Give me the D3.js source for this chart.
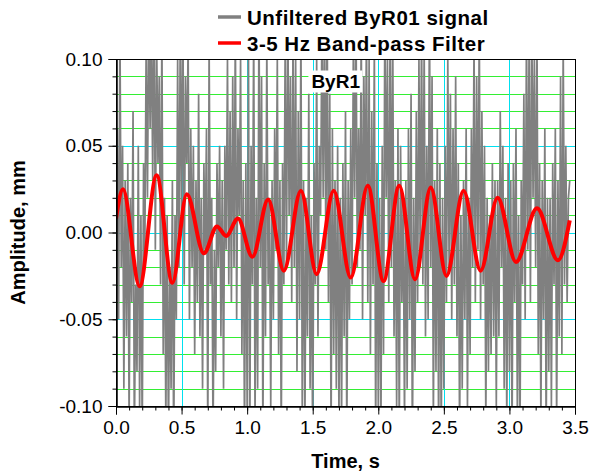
<!DOCTYPE html>
<html>
<head>
<meta charset="utf-8">
<script src="https://cdn.jsdelivr.net/npm/d3@7"></script>
<style>
  body { margin: 0; background: #fff; }
  text { font-family: "Liberation Sans", Arial, sans-serif; }
</style>
</head>
<body>
<div id="chart"></div>
<script>
// axis ticks
const timeTicks = [0, 0.5, 1.0, 1.5, 2.0, 2.5, 3.0, 3.5];
const ampTicks = [-0.10, -0.05, 0.00, 0.05, 0.10];

// unfiltered signal, one value every 0.01 s
const sampleStep = 0.01;
const rawSignal = [
  0.01, 0.06, -0.05, 0.12, -0.02, 0.05, -0.09, 0.03, -0.06, 0.04,
  -0.11, 0.02, -0.04, 0.07, -0.12, -0.03, -0.08, 0.05, -0.1, 0.01,
  -0.12, 0.04, -0.01, 0.11, 0.02, 0.13, 0.06, 0.12, 0.03, 0.14,
  -0.01, 0.11, 0.04, 0.09, -0.03, 0.12, -0.07, 0.02, -0.11, 0.01,
  -0.12, -0.02, -0.09, 0.03, -0.13, 0.01, -0.05, 0.1, -0.02, 0.12,
  0.01, 0.13, -0.03, 0.09, 0.04, 0.11, -0.05, 0.06, -0.02, 0.05,
  -0.07, 0.03, -0.04, 0.08, -0.06, 0.02, -0.09, 0.04, -0.01, 0.06,
  -0.12, 0.11, -0.03, 0.02, -0.12, -0.01, -0.08, 0.04, -0.02, 0.05,
  -0.06, 0.03, -0.09, 0.05, -0.01, 0.1, -0.03, 0.07, -0.04, 0.09,
  -0.02, 0.12, -0.05, 0.06, 0.01, 0.1, -0.07, 0.03, -0.12, 0.04,
  -0.1, 0.11, -0.13, 0.05, -0.03, 0.12, -0.11, 0.02, -0.09, 0.13,
  -0.02, 0.09, -0.12, 0.04, -0.06, 0.11, -0.03, 0.02, -0.1, 0.03,
  -0.05, 0.06, -0.01, 0.1, -0.07, 0.03, -0.12, 0.04, -0.03, 0.11,
  -0.02, 0.13, 0.01, 0.09, -0.04, 0.12, -0.02, 0.1, -0.08, 0.07,
  -0.05, 0.12, -0.1, 0.03, -0.12, 0.02, -0.06, 0.08, -0.09, 0.01,
  -0.13, 0.04, -0.03, 0.1, -0.06, 0.05, 0.01, 0.12, 0.02, 0.13,
  -0.01, 0.13, -0.04, 0.08, -0.12, 0.06, -0.07, 0.03, -0.09, 0.05,
  -0.11, 0.02, -0.11, 0.04, -0.06, 0.07, -0.12, 0.03, -0.05, 0.06,
  -0.03, 0.11, 0.02, 0.13, -0.02, 0.06, -0.01, 0.12, -0.05, 0.09,
  0.01, 0.12, -0.04, 0.1, -0.07, 0.07, -0.03, 0.11, -0.12, 0.04,
  -0.1, 0.02, -0.12, 0.05, -0.07, 0.13, 0.02, 0.1, -0.04, 0.12,
  -0.02, 0.12, -0.06, 0.03, -0.1, 0.06, -0.12, 0.05, -0.04, 0.02,
  -0.11, 0.03, -0.09, 0.06, -0.05, 0.08, -0.13, 0.02, -0.08, 0.07,
  -0.04, 0.1, -0.02, 0.12, -0.03, 0.11, -0.06, 0.05, -0.05, 0.13,
  -0.02, 0.09, -0.11, 0.03, -0.08, 0.06, -0.12, 0.04, -0.12, 0.02,
  -0.09, 0.05, -0.04, 0.1, -0.02, 0.08, -0.05, 0.06, -0.03, 0.09,
  -0.06, 0.04, -0.12, 0.01, -0.09, 0.03, -0.05, 0.06, -0.1, 0.02,
  -0.07, 0.06, -0.02, 0.11, -0.04, 0.09, -0.01, 0.12, -0.05, 0.07,
  -0.03, 0.05, -0.11, 0.02, -0.08, 0.01, -0.07, 0.04, -0.06, 0.03,
  -0.1, 0.03, -0.06, 0.07, -0.02, 0.05, -0.09, 0.02, -0.11, 0.04,
  -0.08, 0.03, -0.12, 0.04, -0.04, 0.06, -0.1, 0.01, -0.13, 0.03,
  -0.03, 0.08, -0.05, 0.12, -0.01, 0.11, -0.04, 0.13, 0.02, 0.1,
  -0.02, 0.12, -0.07, 0.04, -0.11, 0.03, -0.05, 0.06, -0.12, 0.02,
  -0.08, 0.02, -0.1, 0.04, -0.03, 0.06, -0.11, 0.03, -0.06, 0.09,
  -0.07, 0.11, -0.03, 0.05, -0.04, 0.02, 0.03
];

// band-pass filtered signal: peaks and troughs (time s, amplitude mm)
const filterTime = [0.00, 0.053, 0.18, 0.31, 0.43, 0.54, 0.67, 0.77, 0.84, 0.93,
  1.04, 1.16, 1.28, 1.41, 1.53, 1.66, 1.79, 1.92, 2.04, 2.16, 2.28, 2.40,
  2.52, 2.65, 2.78, 2.91, 3.05, 3.21, 3.37, 3.46];
const filterAmp = [0.008, 0.025, -0.031, 0.033, -0.029, 0.022, -0.012, 0.0035, -0.002, 0.008,
  -0.014, 0.019, -0.022, 0.024, -0.024, 0.024, -0.026, 0.027, -0.028, 0.027, -0.027, 0.026,
  -0.025, 0.024, -0.022, 0.020, -0.017, 0.014, -0.016, 0.007];

const legendLabels = ['Unfiltered ByR01 signal', '3-5 Hz Band-pass Filter'];
const legendColors = ['#808080', '#ff0000'];

const W = 589, H = 474;
const margin = { top: 59, right: 14, bottom: 68, left: 116 };
const width = W - margin.left - margin.right;
const height = H - margin.top - margin.bottom;

const svg = d3.select('#chart').append('svg')
  .attr('width', W).attr('height', H);

const x = d3.scaleLinear().domain([0, 3.5]).range([0, width]);
const y = d3.scaleLinear().domain([-0.1, 0.1]).range([height, 0]);

const g = svg.append('g')
  .attr('transform', 'translate(' + margin.left + ',' + margin.top + ')');

g.append('clipPath').attr('id', 'plotClip')
  .append('rect').attr('width', width).attr('height', height);

// grid: green at minor amplitude ticks, cyan at major ticks
const minorAmp = d3.range(-9, 10).map(d => d / 100);
g.append('g').selectAll('line')
  .data(minorAmp)
  .join('line')
  .attr('x1', 0).attr('x2', width)
  .attr('y1', d => Math.round(y(d)) + 0.5).attr('y2', d => Math.round(y(d)) + 0.5)
  .attr('stroke', d => Math.abs(Math.round(d * 100)) % 5 === 0 ? '#00e0f0' : '#33ee33')
  .attr('stroke-width', 1);

g.append('g').selectAll('line')
  .data(timeTicks.slice(1, -1))
  .join('line')
  .attr('x1', d => Math.round(x(d)) + 0.5).attr('x2', d => Math.round(x(d)) + 0.5)
  .attr('y1', 0).attr('y2', height)
  .attr('stroke', '#00e0f0')
  .attr('stroke-width', 1);

// unfiltered signal
const rawLine = d3.line()
  .x((d, i) => x(i * sampleStep))
  .y(d => y(d));

g.append('path')
  .datum(rawSignal)
  .attr('clip-path', 'url(#plotClip)')
  .attr('fill', 'none')
  .attr('stroke', '#808080')
  .attr('stroke-width', 1.7)
  .attr('d', rawLine);

// filtered signal
const filterLine = d3.line()
  .x(d => x(d[0]))
  .y(d => y(d[1]))
  .curve(d3.curveMonotoneX);

g.append('path')
  .datum(d3.zip(filterTime, filterAmp))
  .attr('clip-path', 'url(#plotClip)')
  .attr('fill', 'none')
  .attr('stroke', '#ff0000')
  .attr('stroke-width', 4)
  .attr('d', filterLine);

// frame
g.append('rect')
  .attr('x', 0.5).attr('y', 0.5)
  .attr('width', width).attr('height', height)
  .attr('fill', 'none').attr('stroke', '#000').attr('stroke-width', 1);

// axes (plain hyphen for negative numbers, as in the original)
const fmt = d => d3.format('.2f')(d).replace('\u2212', '-');
const yAxis = d3.axisLeft(y).tickValues(ampTicks).tickFormat(fmt).tickSize(8).tickPadding(6);
const yAxisMinor = d3.axisLeft(y).tickValues(minorAmp).tickFormat('').tickSize(4);
const xAxis = d3.axisBottom(x).tickValues(timeTicks).tickFormat(d3.format('.1f')).tickSize(8).tickPadding(6);
const xAxisMinor = d3.axisBottom(x).tickValues(d3.range(0, 36).map(d => d / 10)).tickFormat('').tickSize(4);

function styleAxis(sel) {
  sel.selectAll('path').attr('stroke', '#000');
  sel.selectAll('line').attr('stroke', '#000');
  sel.selectAll('text').style('font-size', '19px').attr('fill', '#000');
}

g.append('g').attr('transform', 'translate(0.5,0)').call(yAxisMinor).call(styleAxis);
g.append('g').attr('transform', 'translate(0.5,0)').call(yAxis).call(styleAxis);
g.append('g').attr('transform', 'translate(0,' + (height + 0.5) + ')').call(xAxisMinor).call(styleAxis);
g.append('g').attr('transform', 'translate(0,' + (height + 0.5) + ')').call(xAxis).call(styleAxis);

// axis titles
svg.append('text')
  .attr('x', margin.left + width / 2)
  .attr('y', 468)
  .attr('text-anchor', 'middle')
  .style('font-size', '20px').style('font-weight', 'bold')
  .text('Time, s');

svg.append('text')
  .attr('transform', 'translate(25,' + (margin.top + height / 2) + ') rotate(-90)')
  .attr('text-anchor', 'middle')
  .style('font-size', '20px').style('font-weight', 'bold')
  .text('Amplitude, mm');

// ByR1 label
const tag = g.append('g')
  .attr('transform', 'translate(' + x(1.49) + ',' + y(0.083) + ')');
tag.append('rect')
  .attr('x', -3).attr('y', -18).attr('width', 54).attr('height', 22)
  .attr('fill', '#fff');
tag.append('text')
  .style('font-size', '19px').style('font-weight', 'bold')
  .text('ByR1');

// legend
const legend = svg.append('g').attr('transform', 'translate(218,0)');
legendLabels.forEach((label, i) => {
  const row = legend.append('g').attr('transform', 'translate(0,' + (17 + i * 26) + ')');
  row.append('line')
    .attr('x1', 0).attr('x2', 23)
    .attr('stroke', legendColors[i]).attr('stroke-width', 3.5);
  row.append('text')
    .attr('x', 29).attr('y', 8)
    .style('font-size', '20.5px').style('font-weight', 'bold')
    .style('letter-spacing', '0.5px')
    .text(label);
});
</script>
</body>
</html>
